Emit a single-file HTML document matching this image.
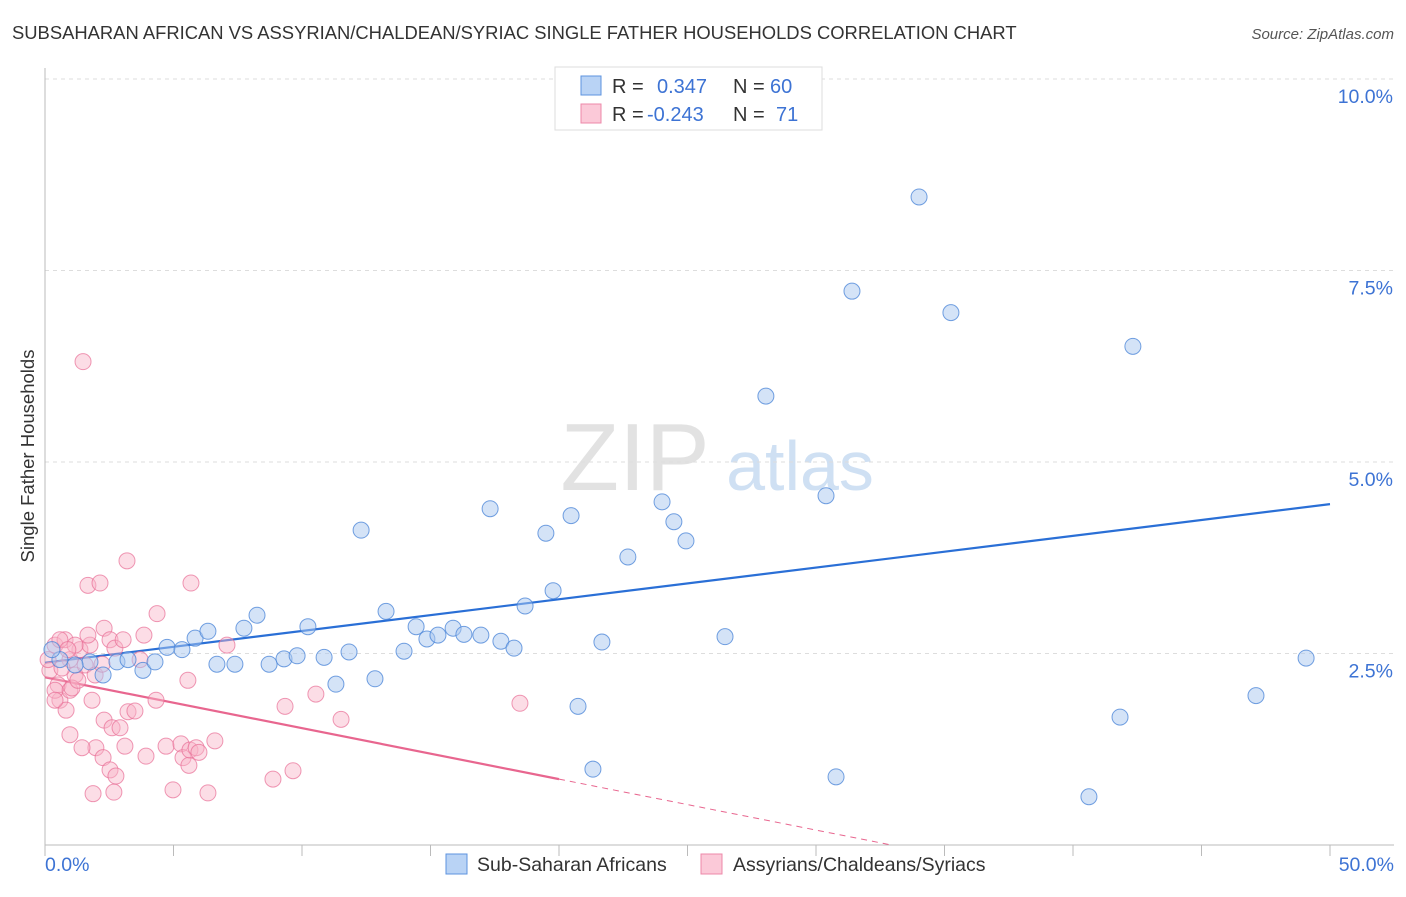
<!DOCTYPE html>
<html><head><meta charset="utf-8"><style>
body{margin:0;background:#fff;font-family:"Liberation Sans",sans-serif;}
svg text{font-family:"Liberation Sans",sans-serif;}
</style></head><body>
<svg id="c" width="1406" height="892" viewBox="0 0 1406 892">
<text x="12" y="39" font-size="18.4" fill="#333">SUBSAHARAN AFRICAN VS ASSYRIAN/CHALDEAN/SYRIAC SINGLE FATHER HOUSEHOLDS CORRELATION CHART</text>
<text x="1394" y="39" font-size="15" fill="#555" font-style="italic" text-anchor="end">Source: ZipAtlas.com</text>
<text x="0" y="0" transform="translate(34,456) rotate(-90)" font-size="18.5" fill="#333" text-anchor="middle">Single Father Households</text>
<g>
<text x="635" y="490" font-size="96" font-family="Liberation Serif" fill="#e2e2e2" text-anchor="middle">ZIP</text>
<text x="800" y="490" font-size="70" fill="#cfe0f3" text-anchor="middle">atlas</text>
</g>
<g id="grid"></g><g id="axes"></g><g id="trend"></g><g id="pts"></g>
<g>
<rect x="555" y="67" width="267" height="63" fill="#fff" stroke="#ddd"/>
<rect x="581" y="76" width="20" height="19" fill="#b9d3f5" stroke="#5d93df"/>
<rect x="581" y="104" width="20" height="19" fill="#fbc9d8" stroke="#ec88a9"/>
<text x="612" y="93" font-size="20" fill="#333">R = <tspan fill="#3d73d4" x="657">0.347</tspan><tspan x="733" fill="#333">N = </tspan><tspan fill="#3d73d4" x="770">60</tspan></text>
<text x="612" y="121" font-size="20" fill="#333">R = <tspan fill="#3d73d4" x="647">-0.243</tspan><tspan x="733" fill="#333">N = </tspan><tspan fill="#3d73d4" x="776">71</tspan></text>
</g>
<g>
<rect x="446" y="854" width="21" height="20" fill="#b9d3f5" stroke="#5d93df"/>
<text x="477" y="871" font-size="19.5" fill="#333">Sub-Saharan Africans</text>
<rect x="701" y="854" width="21" height="20" fill="#fbc9d8" stroke="#ec88a9"/>
<text x="733" y="871" font-size="19.5" fill="#333">Assyrians/Chaldeans/Syriacs</text>
</g>
</svg>
<script>
const yTicks=[2.5,5,7.5,10];
const yTickLabels=["2.5%","5.0%","7.5%","10.0%"];
const xEndLabels=["0.0%","50.0%"];
const blueX=[0.58,1.75,2.26,2.80,3.23,3.81,4.28,4.75,5.33,5.84,6.34,6.69,7.39,7.74,8.25,8.72,9.30,9.81,10.23,10.86,11.32,11.83,12.30,12.84,13.27,13.97,14.44,14.86,15.29,15.88,16.30,16.96,17.32,17.74,18.25,18.68,19.49,19.77,20.47,20.74,21.32,21.67,22.68,24.01,24.47,24.94,26.46,28.05,30.39,30.78,31.40,34.01,35.25,40.62,41.83,42.33,47.12,49.07,0.27,1.17];
const blueY=[2.42,2.39,2.22,2.39,2.42,2.28,2.39,2.58,2.55,2.70,2.79,2.36,2.36,2.83,3.00,2.36,2.43,2.47,2.85,2.45,2.10,2.52,4.11,2.17,3.05,2.53,2.85,2.69,2.74,2.83,2.75,2.74,4.39,2.66,2.57,3.12,4.07,3.32,4.30,1.81,0.99,2.65,3.76,4.48,4.22,3.97,2.72,5.86,4.56,0.89,7.23,8.46,6.95,0.63,1.67,6.51,1.95,2.44,2.55,2.35];
const pinkX=[0.39,0.19,0.51,0.78,0.97,1.17,1.36,1.56,1.75,0.58,0.82,0.97,0.97,1.17,1.05,1.48,1.67,2.14,2.30,2.53,3.19,2.30,2.61,2.92,3.23,3.50,3.11,1.98,1.44,2.26,2.53,2.76,1.87,2.68,3.85,3.70,3.93,4.36,4.32,4.71,4.98,5.29,5.37,5.56,5.68,5.60,5.64,5.88,5.99,6.34,6.61,7.08,8.87,9.34,9.65,10.54,11.52,18.48,0.58,0.89,1.95,2.22,1.28,0.66,0.39,1.67,2.72,3.04,1.83,0.12,0.39];
const pinkY=[2.61,2.28,2.09,2.68,2.42,2.22,2.55,2.35,2.61,1.89,1.76,1.44,2.02,2.61,2.05,6.31,3.39,3.42,2.83,2.68,3.71,1.63,1.53,1.53,1.74,1.75,1.29,1.27,1.27,1.14,0.98,0.90,0.67,0.69,2.74,2.42,1.16,3.02,1.89,1.29,0.72,1.32,1.14,2.15,3.42,1.04,1.24,1.27,1.21,0.68,1.36,2.61,0.86,1.81,0.97,1.97,1.64,1.85,2.68,2.55,2.22,2.36,2.15,2.31,2.02,2.74,2.57,2.68,1.89,2.42,1.89];
const blueTrend=[2.38,4.45];
const pinkTrend=[2.19,0.86,20];

const NS="http://www.w3.org/2000/svg";
const X0=45,X1=1330,Y0=845,YPX=76.6;
const sx=v=>X0+(X1-X0)*v/50;
const sy=v=>Y0-v*YPX;
function mk(tag,attrs,parent){const e=document.createElementNS(NS,tag);for(const k in attrs)e.setAttribute(k,attrs[k]);document.getElementById(parent).appendChild(e);return e;}

yTicks.forEach((t,i)=>{
  const l=mk('line',{x1:X0,x2:1394,y1:sy(t),y2:sy(t),stroke:'#ddd','stroke-dasharray':'4,4'},'grid');
  
  
  const tx=mk('text',{x:1393,y:sy(t)+24,'font-size':19.5,fill:'#3d73d4','text-anchor':'end'},'grid');
  tx.textContent=yTickLabels[i];
  
  
});
const ax=mk('line',{x1:X0,x2:X0,y1:68,y2:Y0,stroke:'#bbb'},'axes');


const bx=mk('line',{x1:X0,x2:1394,y1:Y0,y2:Y0,stroke:'#bbb'},'axes');


for(let v=0;v<=50;v+=5){
  const t=mk('line',{x1:sx(v),x2:sx(v),y1:Y0,y2:Y0+11,stroke:'#bbb'},'axes');
  
  
}
[[0,'start',45],[50,'end',1394]].forEach((d,i)=>{
  const t=mk('text',{x:d[2],y:871,'font-size':19.5,fill:'#3d73d4','text-anchor':d[1]},'axes');
  t.textContent=xEndLabels[i];
  
  
});

const bl=mk('line',{x1:sx(0),y1:sy(blueTrend[0]),x2:sx(50),y2:sy(blueTrend[1]),stroke:'#2a6fd6','stroke-width':2.2},'trend');


const slope=(pinkTrend[1]-pinkTrend[0])/pinkTrend[2];
const xz=-pinkTrend[0]/slope;
const pl=mk('line',{x1:sx(0),y1:sy(pinkTrend[0]),x2:sx(pinkTrend[2]),y2:sy(pinkTrend[1]),stroke:'#e8668f','stroke-width':2.2},'trend');


const pd=mk('line',{x1:sx(pinkTrend[2]),y1:sy(pinkTrend[1]),x2:sx(xz),y2:sy(0),stroke:'#e8668f','stroke-width':1,'stroke-dasharray':'6,5'},'trend');



pinkX.forEach((x,i)=>{
  const c=mk('circle',{cx:sx(x),cy:sy(pinkY[i]),r:8,fill:'rgba(248,180,200,0.45)',stroke:'rgba(232,110,150,0.7)','stroke-width':1},'pts');
  
  
});
blueX.forEach((x,i)=>{
  const c=mk('circle',{cx:sx(x),cy:sy(blueY[i]),r:8,fill:'rgba(170,200,240,0.5)',stroke:'rgba(70,130,215,0.75)','stroke-width':1},'pts');
  
  
});
</script>
</body></html>
